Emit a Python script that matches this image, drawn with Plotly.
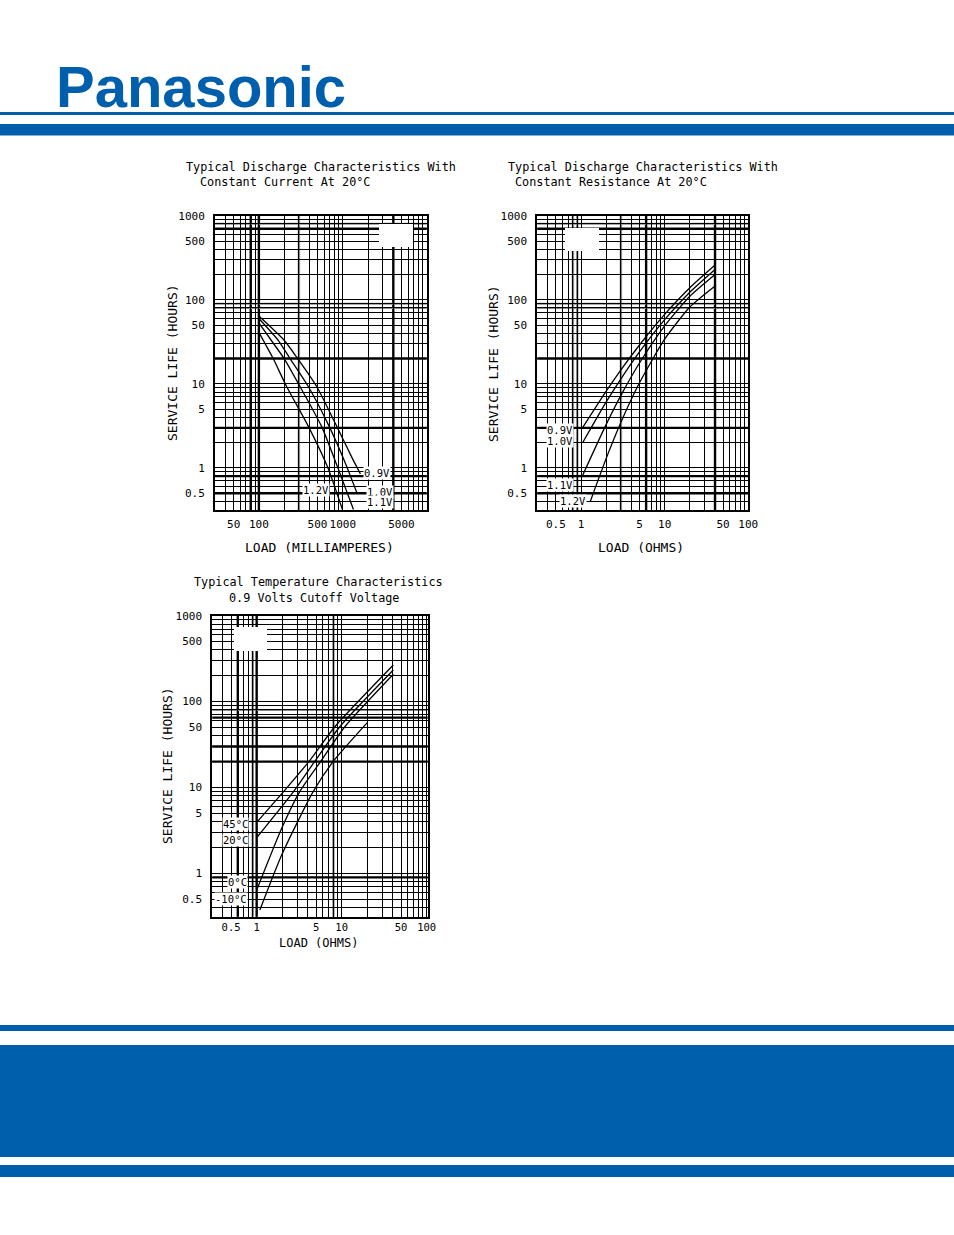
import numpy as np
import plotly.graph_objects as go

W, H = 954, 1235
BLUE = "#005FAD"
FONT = "DejaVu Sans Mono"

# ---------------- data ----------------
# Chart 1: constant current (mA) vs service life (h)
cc_names = ["0.9V", "1.0V", "1.1V", "1.2V"]
cc_load = {
    "0.9V": [100, 200, 290, 489, 850, 1300, 1620],
    "1.0V": [100, 170, 235, 388, 690, 1050, 1468],
    "1.1V": [100, 150, 200, 309, 560, 862, 1340],
    "1.2V": [100, 148, 214, 390, 655, 990],
}
cc_life = {
    "0.9V": [64, 33, 20, 9.3, 3.1, 1.3, 0.85],
    "1.0V": [60, 33, 20, 9.3, 3.1, 1.2, 0.51],
    "1.1V": [53, 30, 20, 9.3, 3.1, 1.04, 0.32],
    "1.2V": [41, 20, 9.3, 3.1, 1.04, 0.32],
}
# Chart 2: constant resistance (ohm) vs service life (h)
cr_names = ["0.9V", "1.0V", "1.1V", "1.2V"]
cr_load = {
    "0.9V": [1.04, 2, 3, 5, 10, 20, 39.4],
    "1.0V": [1.04, 2, 3, 5, 10, 20, 39.4],
    "1.1V": [1.04, 2, 3, 5, 10, 20, 39.4],
    "1.2V": [1.29, 2, 3, 5, 10, 20, 39.4],
}
cr_life = {
    "0.9V": [3.0, 8.2, 14.7, 29, 67, 139, 255],
    "1.0V": [1.98, 6.1, 11.5, 24, 58, 123, 226],
    "1.1V": [0.81, 3.3, 7.3, 17.7, 49, 110, 197],
    "1.2V": [0.40, 1.3, 3.5, 10.3, 34, 82, 144],
}
# Chart 3: temperature characteristics, 0.9 V cutoff
tc_names = ["45°C", "20°C", "0°C", "-10°C"]
tc_load = {
    "45°C": [1.02, 2.06, 4.16, 8.3, 40.5],
    "20°C": [1.02, 2.7, 4.85, 9.5, 40.5],
    "0°C": [1.02, 1.97, 3.2, 5.7, 10.9, 40.5],
    "-10°C": [1.09, 1.97, 4.6, 8.0, 20],
}
tc_life = {
    "45°C": [4.0, 8.9, 20.3, 51, 267],
    "20°C": [2.67, 8.9, 20.3, 51, 233],
    "0°C": [0.67, 3.35, 8.9, 20.3, 51, 208],
    "-10°C": [0.375, 1.64, 8.9, 20.3, 57],
}

# tick labels
y_ticks = [1000, 500, 100, 50, 10, 5, 1, 0.5]
y_ticktext = ["1000", "500", "100", "50", "10", "5", "1", "0.5"]
x1_ticks = [50, 100, 500, 1000, 5000]
x1_ticktext = ["50", "100", "500", "1000", "5000"]
x2_ticks = [0.5, 1, 5, 10, 50, 100]
x2_ticktext = ["0.5", "1", "5", "10", "50", "100"]

# heavier rulings of the graph paper (black) and grey rulings
thick_x1 = [80, 100, 4000]
thick_x2 = [6, 40]
thick_x3 = [0.6, 1]
thick_y12 = [700, 20, 3, 0.8, 0.5]
thick_y3 = [65, 30, 20, 0.9]
grey_x1 = [300]
grey_x2 = [0.8, 0.9, 3]
grey_x3 = [0.9, 8]
grey_y12 = [800, 90, 80]
grey_y3 = [80]

# curve end labels (text, load, hours)
cc_labels = [("0.9V", 1750, 0.87), ("1.0V", 1900, 0.52), ("1.1V", 1900, 0.395), ("1.2V", 705, 0.54)]
cr_labels = [("0.9V", 0.83, 2.85), ("1.0V", 0.83, 2.1), ("1.1V", 0.83, 0.62), ("1.2V", 1.19, 0.40)]
tc_labels = [("45°C", 0.81, 3.76), ("20°C", 0.81, 2.45), ("0°C", 0.80, 0.79), ("-10°C", 0.80, 0.50)]

# ---------------- figure ----------------
fig = go.Figure()

def px_x(p):
    return p / W

def px_y(p):
    return 1 - p / H

panels = [
    dict(xa="x", ya="y", names=cc_names, load=cc_load, life=cc_life,
         xdom=[px_x(215), px_x(426.7)], ydom=[px_y(510), px_y(215.7)],
         xrange=[1.477, 4.0], yrange=[-0.5, 3.0], xstand=3, xfs=11,
         xt=x1_ticks, xtt=x1_ticktext, thx=thick_x1, thy=thick_y12,
         gx=grey_x1, gy=grey_y12, labels=cc_labels),
    dict(xa="x2", ya="y2", names=cr_names, load=cr_load, life=cr_life,
         xdom=[px_x(537.3), px_x(748.3)], ydom=[px_y(510), px_y(215.7)],
         xrange=[-0.523, 2.0], yrange=[-0.5, 3.0], xstand=3, xfs=11,
         xt=x2_ticks, xtt=x2_ticktext, thx=thick_x2, thy=thick_y12,
         gx=grey_x2, gy=grey_y12, labels=cr_labels),
    dict(xa="x3", ya="y3", names=tc_names, load=tc_load, life=tc_life,
         xdom=[px_x(212.3), px_x(427.7)], ydom=[px_y(916.7), px_y(615.7)],
         xrange=[-0.522, 2.012], yrange=[-0.504, 3.0], xstand=0, xfs=10.5,
         xt=x2_ticks, xtt=x2_ticktext, thx=thick_x3, thy=thick_y3,
         gx=grey_x3, gy=grey_y3, labels=tc_labels),
]

shapes = []
annotations = []
layout_axes = {}

for i, p in enumerate(panels):
    for n in p["names"]:
        fig.add_trace(go.Scatter(
            x=p["load"][n], y=p["life"][n], mode="lines",
            line=dict(color="black", width=1.3, shape="spline", smoothing=0.6),
            xaxis=p["xa"], yaxis=p["ya"], showlegend=False, hoverinfo="skip"))
    xkey = "xaxis" if p["xa"] == "x" else "xaxis" + p["xa"][1:]
    ykey = "yaxis" if p["ya"] == "y" else "yaxis" + p["ya"][1:]
    common = dict(type="log", showgrid=True, gridcolor="black", gridwidth=1,
                  showline=True, linecolor="black", linewidth=2, mirror=True,
                  ticks="", zeroline=False, fixedrange=True, tickangle=0,
                  automargin=False,
                  tickfont=dict(family=FONT, size=11, color="black"),
                  minor=dict(dtick="D1", showgrid=True, gridcolor="black", gridwidth=0.8, ticks=""))
    layout_axes[xkey] = dict(common, domain=p["xdom"], range=p["xrange"], anchor=p["ya"],
                             tickmode="array", tickvals=p["xt"], ticktext=p["xtt"],
                             ticklabelstandoff=p["xstand"],
                             tickfont=dict(family=FONT, size=p["xfs"], color="black"))
    layout_axes[ykey] = dict(common, domain=p["ydom"], range=p["yrange"], anchor=p["xa"],
                             tickmode="array", tickvals=y_ticks, ticktext=y_ticktext,
                             ticklabelstandoff=6)
    for vals, col, wd in [(p["gx"], "#8a8a8a", 2.4), (p["thx"], "black", 2.4)]:
        for v in vals:
            shapes.append(dict(type="line", xref=p["xa"], yref=p["ya"] + " domain",
                               x0=v, x1=v, y0=0, y1=1, layer="below",
                               line=dict(color=col, width=wd)))
    for vals, col, wd in [(p["gy"], "#8a8a8a", 2.0), (p["thy"], "black", 2.4)]:
        for v in vals:
            shapes.append(dict(type="line", yref=p["ya"], xref=p["xa"] + " domain",
                               y0=v, y1=v, x0=0, x1=1, layer="below",
                               line=dict(color=col, width=wd)))
    for (t, lx, ly) in p["labels"]:
        anchor = "left" if i == 0 and t != "1.2V" else "right"
        annotations.append(dict(text=t, x=np.log10(lx), y=np.log10(ly),
                                xref=p["xa"], yref=p["ya"], showarrow=False,
                                xanchor=anchor, yanchor="middle", bgcolor="white",
                                borderpad=0,
                                font=dict(family=FONT, size=10.5, color="black")))

# white-out patches on the graph paper
for (x0, y0, x1, y1) in [(379, 224, 413, 247), (565, 228, 599, 251), (234, 627, 267, 651)]:
    shapes.append(dict(type="rect", xref="paper", yref="paper",
                       x0=px_x(x0), x1=px_x(x1), y0=px_y(y1), y1=px_y(y0),
                       fillcolor="white", line=dict(width=0), layer="above"))

# page decoration: blue rules and band
for (y0, y1) in [(112, 115), (124, 135.5), (1025, 1031), (1045, 1157), (1165, 1177)]:
    shapes.append(dict(type="rect", xref="paper", yref="paper", x0=0, x1=1,
                       y0=px_y(y1), y1=px_y(y0), fillcolor=BLUE,
                       line=dict(width=0), layer="above"))

# logo
annotations.append(dict(text="<b>Panasonic</b>", xref="paper", yref="paper",
                        x=px_x(54), y=px_y(87), xanchor="left", yanchor="middle",
                        showarrow=False,
                        font=dict(family="Liberation Sans", size=58, color=BLUE)))

# titles (two lines each)
titles = [
    ("Typical Discharge Characteristics With", 184, 167),
    ("Constant Current At 20°C", 198, 182),
    ("Typical Discharge Characteristics With", 506, 167),
    ("Constant Resistance At 20°C", 513, 182),
    ("Typical Temperature Characteristics", 192, 582),
    ("0.9 Volts Cutoff Voltage", 227, 598),
]
for (t, x, y) in titles:
    annotations.append(dict(text=t, xref="paper", yref="paper", x=px_x(x), y=px_y(y),
                            xanchor="left", yanchor="middle", showarrow=False,
                            font=dict(family=FONT, size=11.8, color="black")))

# axis titles
axis_titles = [
    ("LOAD (MILLIAMPERES)", 319, 547, 0, 13),
    ("LOAD (OHMS)", 641, 547, 0, 13),
    ("LOAD (OHMS)", 318, 943, 0, 12),
    ("SERVICE LIFE (HOURS)", 172, 363, -90, 13),
    ("SERVICE LIFE (HOURS)", 493, 363, -90, 13),
    ("SERVICE LIFE (HOURS)", 168, 766, -90, 13),
]
for (t, x, y, a, fs) in axis_titles:
    annotations.append(dict(text=t, xref="paper", yref="paper", x=px_x(x), y=px_y(y),
                            xanchor="center", yanchor="middle", showarrow=False,
                            textangle=a,
                            font=dict(family=FONT, size=fs, color="black")))

fig.update_layout(
    width=W, height=H, autosize=False,
    margin=dict(l=0, r=0, t=0, b=0, pad=0, autoexpand=False),
    paper_bgcolor="white", plot_bgcolor="white",
    shapes=shapes, annotations=annotations, showlegend=False,
    **layout_axes,
)

fig.write_html("out.html", config={"displayModeBar": False, "responsive": False},
               default_width="954px", default_height="1235px",
               post_script="var gd=document.getElementById('{plot_id}');"
                           "gd.style.position='fixed';gd.style.left='0px';gd.style.top='0px';"
                           "document.body.style.margin='0';"
                           "document.documentElement.style.overflow='hidden';")
